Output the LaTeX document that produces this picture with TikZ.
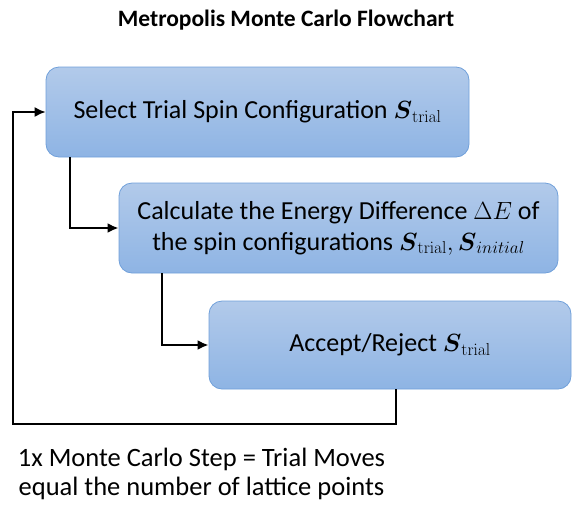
\documentclass[tikz,border=0pt]{standalone}
\usepackage{amsmath}
\usepackage[no-math]{fontspec}
\setmainfont{Carlito}
\usetikzlibrary{arrows.meta}
\definecolor{boxtop}{RGB}{178,202,234}
\definecolor{boxbot}{RGB}{142,180,228}
\definecolor{boxline}{RGB}{112,160,218}
\tikzset{
  flowbox/.style={draw=boxline, line width=0.8pt, rounded corners=13pt,
    top color=boxtop, bottom color=boxbot, inner sep=0pt,
    font=\fontsize{26}{31}\selectfont, align=center},
  flowarrow/.style={line width=2.6pt, -{Latex[length=11pt,width=10pt]}},
  backarrow/.style={line width=1.7pt, -{Latex[length=11pt,width=10pt]}}
}
\begin{document}
\begin{tikzpicture}[x=1pt,y=-1pt]
\useasboundingbox (0,0) rectangle (572,504);
\node[font=\fontsize{23.5}{28}\bfseries\selectfont] (title) at (286,20) {Metropolis Monte Carlo Flowchart};
\node[flowbox, minimum width=423pt, minimum height=90pt] (b1) at (257.5,112)
  {Select Trial Spin Configuration $\boldsymbol{S}_{\mathrm{trial}}$};
\node[flowbox, minimum width=439pt, minimum height=90pt] (b2) at (338.5,228)
  {Calculate the Energy Difference $\Delta E$ of\\the spin configurations $\boldsymbol{S}_{\mathrm{trial}},\boldsymbol{S}_{initial}$};
\node[flowbox, minimum width=362pt, minimum height=88pt] (b3) at (390,345)
  {Accept/Reject $\boldsymbol{S}_{\mathrm{trial}}$};
\node[font=\fontsize{26.5}{29}\selectfont, align=center] (note) at (201.5,474)
  {1x Monte Carlo Step = Trial Moves\\equal the number of lattice points};
\coordinate (c1) at (13,424);
\draw[flowarrow] (b1.south -| 70,0) |- (b2.west);
\draw[flowarrow] (b2.south -| 162,0) |- (b3.west);
\draw[backarrow] (b3.south -| 396,0) |- (c1) |- (b1.west);
\end{tikzpicture}
\end{document}
